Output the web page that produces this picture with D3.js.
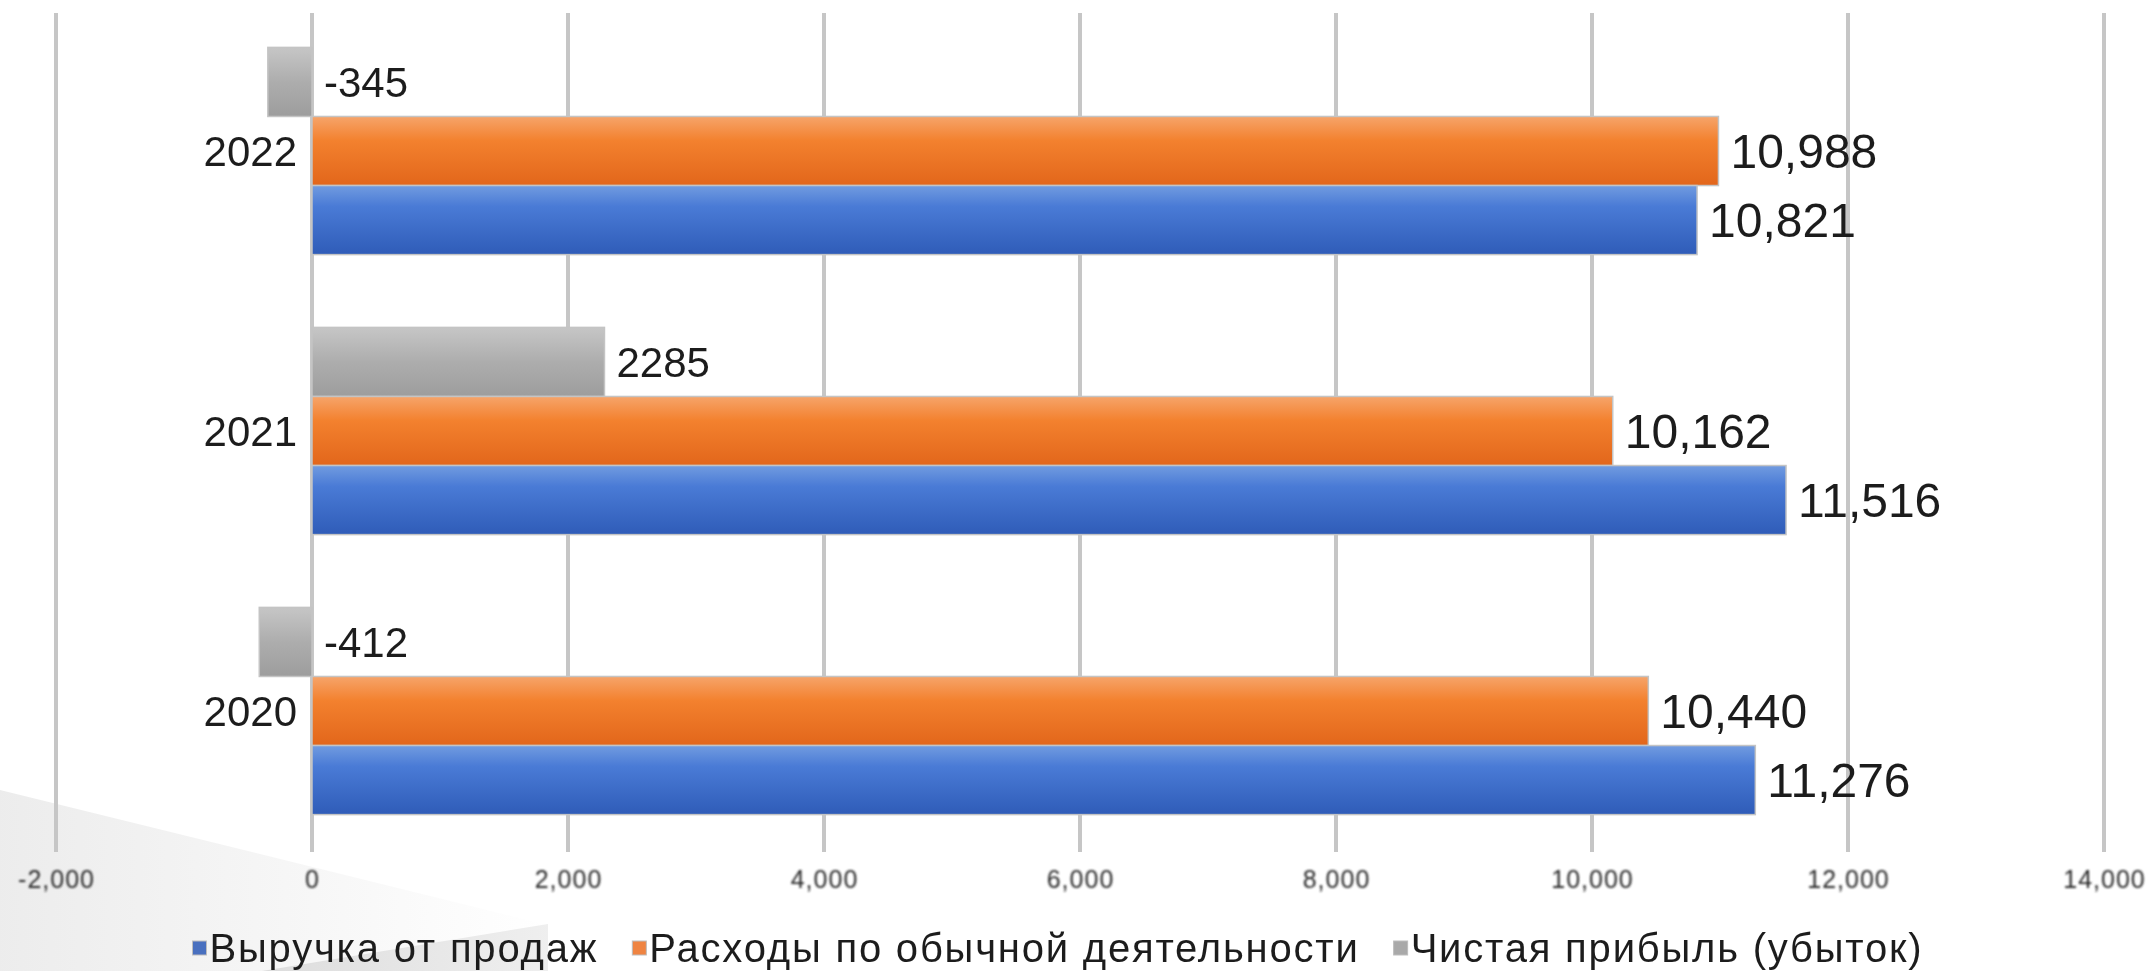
<!DOCTYPE html>
<html>
<head>
<meta charset="utf-8">
<script src="https://cdn.jsdelivr.net/npm/d3@7"></script>
<style>
  html, body { margin: 0; padding: 0; background: #ffffff; }
  svg { display: block; }
  text { font-family: "Liberation Sans", Arial, sans-serif; }
</style>
</head>
<body>
<svg id="chart" width="2151" height="971"></svg>
<script>
// Years, top to bottom
const categories = ["2022", "2021", "2020"];
// Series values per year (same order as categories)
const revenue = [10821, 11516, 11276];
const expenses = [10988, 10162, 10440];
const netProfit = [-345, 2285, -412];
// Series names for the legend
const seriesNames = ["Выручка от продаж", "Расходы по обычной деятельности", "Чистая прибыль (убыток)"];
// Axis ticks
const xTicks = [-2000, 0, 2000, 4000, 6000, 8000, 10000, 12000, 14000];

const svg = d3.select("#chart");
const defs = svg.append("defs");

const locale = d3.formatLocale({ decimal: ".", thousands: ",", grouping: [3], currency: ["", ""], minus: "-" });
const fmtComma = locale.format(",d");
const fmtPlain = locale.format("d");

// Gradients for bars and background decoration
function vGrad(id, stops) {
  const g = defs.append("linearGradient").attr("id", id)
    .attr("x1", 0).attr("y1", 0).attr("x2", 0).attr("y2", 1);
  stops.forEach(([o, c]) => g.append("stop").attr("offset", o).attr("stop-color", c));
}
vGrad("gBlue", [[0, "#719be0"], [0.3, "#4a7bd6"], [1, "#2f5cb8"]]);
vGrad("gOrange", [[0, "#f6a46a"], [0.35, "#f3812e"], [1, "#e2661b"]]);
vGrad("gGray", [[0, "#c6c6c6"], [0.5, "#adadad"], [1, "#9d9d9d"]]);

const bgA = defs.append("linearGradient").attr("id", "bgA")
  .attr("x1", 0).attr("y1", 0).attr("x2", 1).attr("y2", 0);
bgA.append("stop").attr("offset", 0).attr("stop-color", "#e6e6e6");
bgA.append("stop").attr("offset", 1).attr("stop-color", "#ffffff");
const bgB = defs.append("linearGradient").attr("id", "bgB")
  .attr("x1", 0).attr("y1", 0).attr("x2", 1).attr("y2", 0);
bgB.append("stop").attr("offset", 0).attr("stop-color", "#d9d9d9");
bgB.append("stop").attr("offset", 1).attr("stop-color", "#ededed");

defs.append("filter").attr("id", "soft").attr("x", "-5%").attr("y", "-20%").attr("width", "110%").attr("height", "140%")
  .append("feGaussianBlur").attr("stdDeviation", 0.8);
defs.append("filter").attr("id", "softer").attr("x", "-5%").attr("y", "-20%").attr("width", "110%").attr("height", "140%")
  .append("feGaussianBlur").attr("stdDeviation", 0.45);

// Slide backdrop in the lower-left corner
svg.append("path").attr("d", "M0,790 L548,925 L270,971 L0,971 Z").attr("fill", "url(#bgA)").attr("opacity", 0.75);
svg.append("path").attr("d", "M548,924 L548,971 L262,971 Z").attr("fill", "url(#bgB)").attr("opacity", 0.9);

// Scales
const x = d3.scaleLinear().domain([-2000, 14000]).range([56, 2104]);
const y = d3.scaleBand().domain(categories).range([11, 851]).paddingInner(0.26).paddingOuter(0.13);
const inner = d3.scaleBand().domain(["net", "expenses", "revenue"]).range([0, y.bandwidth()]);

// Vertical gridlines
svg.append("g").selectAll("line").data(xTicks).join("line")
  .attr("x1", d => x(d)).attr("x2", d => x(d))
  .attr("y1", 13).attr("y2", 852)
  .attr("stroke", "#c6c6c6").attr("stroke-width", 4);

// Tick labels
const xAxis = d3.axisBottom(x).tickValues(xTicks).tickSize(0).tickPadding(0).tickFormat(fmtComma);
const ax = svg.append("g").attr("transform", "translate(0,870)").call(xAxis);
ax.select(".domain").remove();
ax.selectAll("text")
  .attr("font-size", 25).attr("letter-spacing", 1).attr("fill", "#2a2a2a")
  .attr("font-family", "Liberation Sans, Arial, sans-serif")
  .attr("dy", "0.71em").attr("filter", "url(#soft)");

// Bars
const rows = categories.map((c, i) => ({ cat: c, revenue: revenue[i], expenses: expenses[i], net: netProfit[i] }));
const series = [
  { key: "net", fill: "url(#gGray)", fmt: fmtPlain, size: 42 },
  { key: "expenses", fill: "url(#gOrange)", fmt: fmtComma, size: 48 },
  { key: "revenue", fill: "url(#gBlue)", fmt: fmtComma, size: 48 }
];

const groups = svg.append("g").selectAll("g").data(rows).join("g")
  .attr("transform", d => `translate(0,${y(d.cat)})`);

series.forEach(s => {
  groups.append("rect")
    .attr("x", d => Math.min(x(0), x(d[s.key])))
    .attr("y", inner(s.key))
    .attr("width", d => Math.abs(x(d[s.key]) - x(0)))
    .attr("height", inner.bandwidth())
    .attr("fill", s.fill)
    .attr("stroke", "#c4c4c4").attr("stroke-width", 1.5);
});

// Value labels
series.forEach(s => {
  groups.append("text")
    .attr("x", d => Math.max(x(0), x(d[s.key])) + 12)
    .attr("y", inner(s.key) + inner.bandwidth() / 2)
    .attr("dy", "0.36em")
    .attr("font-size", s.size)
    .attr("fill", "#1e1e1e")
    .attr("filter", "url(#softer)")
    .text(d => s.fmt(d[s.key]));
});

// Category labels
groups.append("text")
  .attr("x", x(0) - 15)
  .attr("y", inner("expenses") + inner.bandwidth() / 2)
  .attr("dy", "0.36em")
  .attr("text-anchor", "end")
  .attr("font-size", 42)
  .attr("fill", "#1e1e1e")
  .attr("filter", "url(#softer)")
  .text(d => d.cat);

// Legend
const legendColors = ["#4a6fbf", "#ef8442", "#a9a9a9"];
const legend = svg.append("g").attr("filter", "url(#softer)");
const items = seriesNames.map((name, i) => {
  const g = legend.append("g");
  g.append("rect").attr("x", 0).attr("y", -21).attr("width", 14).attr("height", 14)
    .attr("fill", legendColors[i]).attr("stroke", "#bdbdbd").attr("stroke-width", 1);
  const t = g.append("text").attr("x", 17).attr("y", 0)
    .attr("font-size", 40).attr("letter-spacing", 1.8).attr("fill", "#1e1e1e").text(name);
  return { g, w: 17 + t.node().getComputedTextLength() };
});
const gap = 34;
const total = d3.sum(items, d => d.w) + gap * (items.length - 1);
let cx = 1058 - total / 2;
items.forEach(it => {
  it.g.attr("transform", `translate(${cx},962)`);
  cx += it.w + gap;
});
</script>
</body>
</html>
